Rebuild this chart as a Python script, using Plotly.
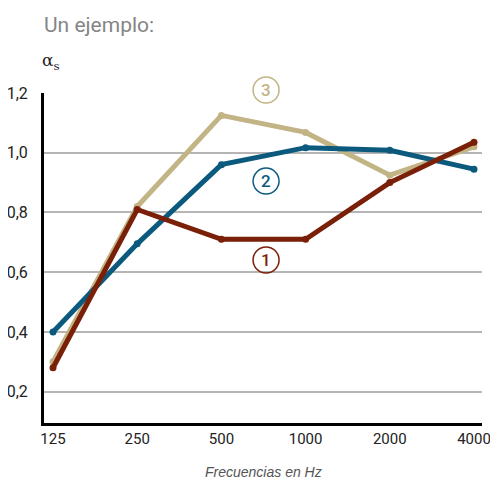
import plotly.graph_objects as go

freqs = ["125", "250", "500", "1000", "2000", "4000"]
serie1 = [0.28, 0.81, 0.71, 0.71, 0.90, 1.035]
serie2 = [0.40, 0.695, 0.96, 1.017, 1.008, 0.945]
serie3 = [0.30, 0.82, 1.125, 1.068, 0.925, 1.02]
y_ticks = [0.2, 0.4, 0.6, 0.8, 1.0, 1.2]
y_ticktext = ["0,2", "0,4", "0,6", "0,8", "1,0", "1,2"]

c1 = "#7a1f08"
c2 = "#0b5a7e"
c3 = "#c2b485"

cond = "Roboto, sans-serif"

fig = go.Figure()
for ys, col in [(serie3, c3), (serie2, c2), (serie1, c1)]:
    fig.add_trace(go.Scatter(x=freqs, y=ys, mode="lines+markers",
                             line=dict(color=col, width=5),
                             marker=dict(color=col, size=7),
                             showlegend=False, hoverinfo="skip"))

# circled labels (paper coordinates)
labels = [("3", 0.507, 1.009, c3), ("2", 0.507, 0.733, c2), ("1", 0.507, 0.494, c1)]
for txt, x, y, col in labels:
    fig.add_shape(type="circle", xref="paper", yref="paper", xsizemode="pixel", ysizemode="pixel",
                  xanchor=x, yanchor=y, x0=-13, x1=13, y0=-13, y1=13,
                  line=dict(color=col, width=1.5), layer="above")
    fig.add_annotation(x=x, y=y, xref="paper", yref="paper", text=txt, showarrow=False,
                       xanchor="center", yanchor="middle",
                       font=dict(family=cond, size=17, color=col, weight=500))

fig.add_annotation(text="Un ejemplo:", xref="paper", yref="paper", x=0.0, y=1.0,
                   yshift=54, xshift=-2, xanchor="left", yanchor="bottom", showarrow=False,
                   font=dict(family=cond, size=21, color="#858585"))
fig.add_annotation(text="α<sub>s</sub>", xref="paper", yref="paper", x=0.0, y=1.0,
                   yshift=18, xshift=-4, xanchor="left", yanchor="bottom", showarrow=False,
                   font=dict(family="DejaVu Serif, serif", size=17, color="#222"))
fig.add_annotation(text="<i>Frecuencias en Hz</i>", xref="paper", yref="paper", x=0.5, y=-0.148,
                   xanchor="center", yanchor="middle", showarrow=False,
                   font=dict(family="Liberation Sans, Arial, sans-serif", size=14, color="#555"))

fig.update_layout(
    width=490, height=471,
    margin=dict(l=36, r=16, t=85, b=56),
    plot_bgcolor="white", paper_bgcolor="white",
    xaxis=dict(type="category", range=[-0.107, 5.095], showgrid=False, automargin=False,
               showline=True, linecolor="black", linewidth=3, ticks="",
               tickfont=dict(family=cond, size=15, color="#222")),
    yaxis=dict(range=[0.095, 1.2], tickvals=y_ticks, ticktext=y_ticktext, automargin=False,
               showgrid=True, gridcolor="#b5b5b5", gridwidth=1.5,
               showline=True, linecolor="black", linewidth=3, ticks="",
               zeroline=False, ticklabelstandoff=10,
               tickfont=dict(family=cond, size=16, color="#222")),
)
fig.write_html("out.html")
